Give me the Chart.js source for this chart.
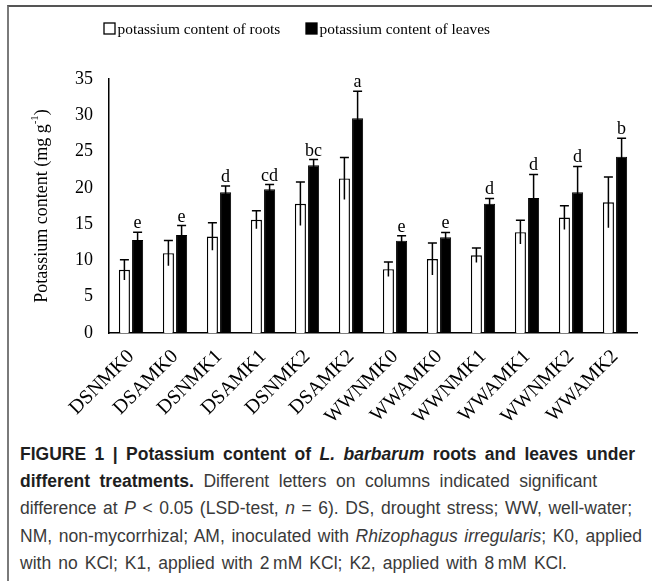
<!DOCTYPE html>
<html>
<head>
<meta charset="utf-8">
<script src="https://cdn.jsdelivr.net/npm/chart.js@4/dist/chart.umd.min.js"></script>
<style>
  html, body { margin: 0; padding: 0; background: #fff; }
  body { width: 652px; height: 581px; position: relative; overflow: hidden; }
  #frame { position: absolute; left: 7px; top: 5px; width: 645px; height: 576px;
           border-left: 2px solid #7a7a7a; border-top: 2px solid #555; }
  #wrap { position: absolute; left: 0; top: 0; width: 652px; height: 440px; }
  #cap { position: absolute; left: 20px; top: 441px;
         font-family: "Liberation Sans", Arial, sans-serif; font-size: 17.5px;
         line-height: 27.2px; color: #3a3a3a; }
  #cap .ln { white-space: nowrap; text-align: justify; text-align-last: justify; }
  #cap b { color: #1e1e1e; }
</style>
</head>
<body>
<div id="frame"></div>
<div id="wrap"><canvas id="c"></canvas></div>
<div id="cap">
<div class="ln" style="width:615px"><b>FIGURE 1 | Potassium content of <i>L. barbarum</i> roots and leaves under</b></div>
<div class="ln" style="width:577px"><b>different treatments.</b> Different letters on columns indicated significant</div>
<div class="ln" style="width:612px">difference at <i>P</i> &lt; 0.05 (LSD-test, <i>n</i> = 6). DS, drought stress; WW, well-water;</div>
<div class="ln" style="width:622px">NM, non-mycorrhizal; AM, inoculated with <i>Rhizophagus irregularis</i>; K0, applied</div>
<div class="ln" style="width:547px">with no KCl; K1, applied with 2&#8201;mM KCl; K2, applied with 8&#8201;mM KCl.</div>
</div>
<script>
const categories = ["DSNMK0","DSAMK0","DSNMK1","DSAMK1","DSNMK2","DSAMK2","WWNMK0","WWAMK0","WWNMK1","WWAMK1","WWNMK2","WWAMK2"];
const rootsValues = [8.7, 11.0, 13.3, 15.6, 17.8, 21.3, 8.8, 10.2, 10.7, 13.9, 15.9, 18.0];
const rootsErrors = [1.4, 1.75, 1.9, 1.25, 3.0, 2.9, 1.0, 2.2, 1.0, 1.65, 1.65, 3.5];
const leavesValues = [12.8, 13.5, 19.4, 19.8, 23.1, 29.6, 12.7, 13.2, 17.8, 18.6, 19.4, 24.3];
const leavesErrors = [1.1, 1.3, 0.85, 0.65, 0.8, 3.7, 0.7, 0.65, 0.75, 3.25, 3.55, 2.55];
const letters = ["e","e","d","cd","bc","a","e","e","d","d","d","b"];
const yTicks = [0, 5, 10, 15, 20, 25, 30, 35];
const seriesNames = ["potassium content of roots", "potassium content of leaves"];

const SERIF = '"Liberation Serif", "Times New Roman", serif';

const errorBarPlugin = {
  id: 'errorBars',
  afterDatasetsDraw(chart) {
    const ctx = chart.ctx;
    const y = chart.scales.y;
    const errs = [rootsErrors, leavesErrors];
    ctx.save();
    ctx.strokeStyle = '#000';
    ctx.lineWidth = 1.5;
    chart.data.datasets.forEach((ds, di) => {
      const meta = chart.getDatasetMeta(di);
      meta.data.forEach((bar, i) => {
        const v = ds.data[i], e = errs[di][i];
        const x = bar.x;
        const yTop = y.getPixelForValue(v + e);
        const yBot = y.getPixelForValue(v - e);
        ctx.beginPath();
        ctx.moveTo(x, yBot); ctx.lineTo(x, yTop);
        ctx.moveTo(x - 4.5, yTop); ctx.lineTo(x + 4.5, yTop);
        ctx.stroke();
        if (di === 1) {
          ctx.fillStyle = '#000';
          ctx.font = '18px ' + SERIF;
          ctx.textAlign = 'center';
          ctx.textBaseline = 'alphabetic';
          ctx.fillText(letters[i], x, yTop - 4);
        }
      });
    });
    ctx.restore();
  }
};

const legendTitlePlugin = {
  id: 'legendTitle',
  afterDraw(chart) {
    const ctx = chart.ctx;
    ctx.save();
    ctx.font = '15.4px ' + SERIF;
    ctx.textBaseline = 'middle';
    ctx.textAlign = 'left';
    const items = [{x: 104, fill: '#fff'}, {x: 306, fill: '#000'}];
    items.forEach((it, k) => {
      ctx.fillStyle = it.fill;
      ctx.fillRect(it.x, 23, 11, 11);
      ctx.strokeStyle = '#000';
      ctx.lineWidth = 1.3;
      ctx.strokeRect(it.x, 23, 11, 11);
      ctx.fillStyle = '#000';
      ctx.fillText(chart.data.datasets[k].label, it.x + 13.5, 29.5);
    });
    const area = chart.chartArea;
    const cy = (area.top + area.bottom) / 2;
    const main = 'Potassium content (mg g';
    const sup = '-1';
    const end = ')';
    ctx.font = '18px ' + SERIF;
    const w1 = ctx.measureText(main).width;
    const w3 = ctx.measureText(end).width;
    ctx.font = '11px ' + SERIF;
    const w2 = ctx.measureText(sup).width;
    const total = w1 + w2 + w3;
    ctx.translate(42, cy);
    ctx.rotate(-Math.PI / 2);
    ctx.textBaseline = 'middle';
    ctx.fillStyle = '#000';
    let x0 = -total / 2;
    ctx.font = '18px ' + SERIF;
    ctx.fillText(main, x0, 0);
    ctx.font = '11px ' + SERIF;
    ctx.fillText(sup, x0 + w1, -7);
    ctx.font = '18px ' + SERIF;
    ctx.fillText(end, x0 + w1 + w2, 0);
    ctx.restore();
  }
};

new Chart(document.getElementById('c'), {
  type: 'bar',
  data: {
    labels: categories,
    datasets: [
      { label: seriesNames[0], data: rootsValues, backgroundColor: '#fff', borderColor: '#000', borderWidth: 1.4,
        categoryPercentage: 0.6, barPercentage: 0.84 },
      { label: seriesNames[1], data: leavesValues, backgroundColor: '#000', borderColor: '#000', borderWidth: 1,
        categoryPercentage: 0.6, barPercentage: 0.84 }
    ]
  },
  options: {
    responsive: true,
    maintainAspectRatio: false,
    animation: false,
    devicePixelRatio: 1,
    layout: { padding: { left: 0, right: 15, top: 79, bottom: 0 } },
    plugins: { legend: { display: false }, tooltip: { enabled: false }, title: { display: false } },
    scales: {
      x: {
        grid: { display: false, drawTicks: false },
        border: { display: true, color: '#000', width: 1.5 },
        ticks: { color: '#000', font: { family: SERIF, size: 20 }, maxRotation: 45, minRotation: 45, padding: 12, autoSkip: false },
        afterFit(scale) { scale.height = 107; }
      },
      y: {
        min: 0, max: 35,
        grid: { display: false, drawTicks: false },
        border: { display: true, color: '#000', width: 1.5 },
        afterBuildTicks(scale) { scale.ticks = yTicks.map(v => ({ value: v })); },
        ticks: { color: '#000', font: { family: SERIF, size: 18 }, padding: 16 },
        afterFit(scale) { scale.width = 109; }
      }
    }
  },
  plugins: [errorBarPlugin, legendTitlePlugin]
});
</script>
</body>
</html>
